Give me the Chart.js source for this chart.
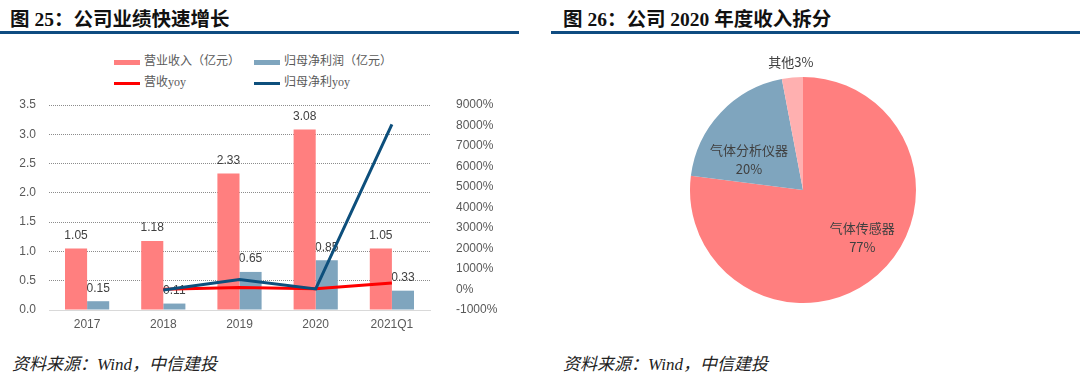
<!DOCTYPE html>
<html>
<head>
<meta charset="utf-8">
<script src="https://cdn.jsdelivr.net/npm/chart.js"></script>
<style>
    body { margin: 0; width: 1080px; height: 380px; background: #fff; position: relative; overflow: hidden; }
    .title { position: absolute; top: 3px; font: bold 19.5px "Liberation Serif", "Noto Sans CJK SC", serif; color: #111; white-space: nowrap; }
    .rule { position: absolute; top: 31px; height: 3px; background: #0f4c81; }
    .source { position: absolute; top: 350px; font: italic 17px "Liberation Serif", "Noto Sans CJK SC", serif; color: #222; white-space: nowrap; }
    .legend { position: absolute; font: 12px "Liberation Serif", "Noto Sans CJK SC", serif; color: #595959; white-space: nowrap; }
    .legend span.sw { display: inline-block; width: 26px; vertical-align: middle; margin-right: 4px; }
    canvas { position: absolute; }
</style>
</head>
<body>
<div class="title" style="left:10px">图 25：公司业绩快速增长</div>
<div class="rule" style="left:0; width:519px"></div>
<div class="title" style="left:563px">图 26：公司 2020 年度收入拆分</div>
<div class="rule" style="left:551px; width:529px"></div>

<div id="legend"></div>

<canvas id="barChart" width="520" height="240" style="left:0; top:97px"></canvas>
<canvas id="pieChart" width="326" height="280" style="left:640px; top:50px"></canvas>

<div class="source" style="left:12px">资料来源：Wind，中信建投</div>
<div class="source" style="left:563px">资料来源：Wind，中信建投</div>

<script>
// 图25 数据
const years = ['2017', '2018', '2019', '2020', '2021Q1'];
const revenue = [1.05, 1.18, 2.33, 3.08, 1.05];      // 营业收入（亿元）
const netProfit = [0.15, 0.11, 0.65, 0.85, 0.33];    // 归母净利润（亿元）
const revenueYoy = [null, 12, 97, 32, 320];          // 营收yoy (%)
const netProfitYoy = [null, -27, 490, 31, 8050];     // 归母净利yoy (%)

// 图26 数据
const segments = ['气体传感器', '气体分析仪器', '其他'];
const segmentShare = [77, 20, 3];

const colors = {
    revenue: '#ff7f7f',
    profit: '#7fa5be',
    revenueYoy: '#ff0000',
    profitYoy: '#0d4f7c',
    other: '#ffb0b0'
};

const legendItems = [
    { text: '营业收入（亿元）', color: colors.revenue, h: 5, x: 114, y: 60 },
    { text: '归母净利润（亿元）', color: colors.profit, h: 5, x: 254, y: 60 },
    { text: '营收yoy', color: colors.revenueYoy, h: 3, x: 114, y: 81 },
    { text: '归母净利yoy', color: colors.profitYoy, h: 3, x: 254, y: 81 }
];
const legendEl = document.getElementById('legend');
legendItems.forEach(function(it) {
    const d = document.createElement('div');
    d.className = 'legend';
    d.style.left = it.x + 'px';
    d.style.top = (it.y - 9) + 'px';
    d.innerHTML = '<span class="sw" style="height:' + it.h + 'px;background:' + it.color + '"></span>' + it.text;
    legendEl.appendChild(d);
});

const tickFont = { family: '"Liberation Sans", Arial, sans-serif', size: 12 };
const clear = 'rgba(0,0,0,0)';

// 柱顶数值标签
const barLabels = {
    id: 'barLabels',
    afterDatasetDraw(chart, args) {
        const ds = chart.data.datasets[args.index];
        if (ds.type !== 'bar') return;
        const c = chart.ctx;
        c.save();
        c.font = '12px "Liberation Sans", Arial, sans-serif';
        c.fillStyle = '#404040';
        c.textAlign = 'center';
        c.textBaseline = 'middle';
        args.meta.data.forEach(function(el, i) {
            c.fillText(ds.data[i].toFixed(2), el.x, el.y - 13);
        });
        c.restore();
    }
};

new Chart(document.getElementById('barChart'), {
    data: {
        labels: years,
        datasets: [
            { type: 'bar', label: '营业收入（亿元）', data: revenue, backgroundColor: colors.revenue, yAxisID: 'y', order: 2 },
            { type: 'bar', label: '归母净利润（亿元）', data: netProfit, backgroundColor: colors.profit, yAxisID: 'y', order: 2 },
            { type: 'line', label: '营收yoy', data: revenueYoy, borderColor: colors.revenueYoy, backgroundColor: colors.revenueYoy, borderWidth: 3, pointRadius: 0, yAxisID: 'y1', order: 1 },
            { type: 'line', label: '归母净利yoy', data: netProfitYoy, borderColor: colors.profitYoy, backgroundColor: colors.profitYoy, borderWidth: 3, pointRadius: 0, yAxisID: 'y1', order: 0 }
        ]
    },
    options: {
        responsive: false,
        animation: false,
        devicePixelRatio: 1,
        layout: { padding: { top: 8 } },
        datasets: { bar: { barPercentage: 1, categoryPercentage: 0.58 } },
        plugins: { legend: { display: false }, tooltip: { enabled: false } },
        scales: {
            x: {
                grid: { display: false, drawTicks: false },
                border: { color: '#d9d9d9', width: 1 },
                ticks: { color: '#595959', font: tickFont, padding: 7 },
                afterFit(s) { s.height = 27; }
            },
            y: {
                position: 'left',
                min: 0, max: 3.5,
                ticks: { stepSize: 0.5, color: '#595959', font: tickFont, padding: 0, callback: v => v.toFixed(1) },
                grid: {
                    drawTicks: true,
                    tickLength: 13,
                    tickColor: clear,
                    color: ctx => ctx.tick && ctx.tick.value === 0 ? clear : '#8c8c8c'
                },
                border: { display: false, dash: [1, 1] },
                afterFit(s) { s.width = 49; }
            },
            y1: {
                position: 'right',
                min: -1000, max: 9000,
                ticks: { stepSize: 1000, autoSkip: false, color: '#595959', font: tickFont, padding: 0, callback: v => v + '%' },
                grid: { display: false, drawTicks: true, tickLength: 26 },
                border: { display: false },
                afterFit(s) { s.width = 90; }
            }
        }
    },
    plugins: [barLabels]
});

// 饼图标签（微调偏移，仅样式）
const pieNudge = [[13, -5], [-3, 17], [0, 0]];
const pieLabels = {
    id: 'pieLabels',
    afterDatasetsDraw(chart) {
        const c = chart.ctx;
        const meta = chart.getDatasetMeta(0);
        c.save();
        c.font = '13px "Noto Sans CJK SC", sans-serif';
        c.fillStyle = '#404040';
        c.textAlign = 'center';
        c.textBaseline = 'middle';
        meta.data.forEach(function(arc, i) {
            const mid = (arc.startAngle + arc.endAngle) / 2;
            const v = segmentShare[i];
            if (v < 5) {
                const r = arc.outerRadius + 16;
                c.fillText(segments[i] + v + '%', arc.x + Math.cos(mid) * r, arc.y + Math.sin(mid) * r);
            } else {
                const r = arc.outerRadius * 0.62;
                const x = arc.x + Math.cos(mid) * r + pieNudge[i][0];
                const y = arc.y + Math.sin(mid) * r + pieNudge[i][1];
                c.fillText(segments[i], x, y - 9);
                c.fillText(v + '%', x, y + 10);
            }
        });
        c.restore();
    }
};

new Chart(document.getElementById('pieChart'), {
    type: 'pie',
    data: {
        labels: segments,
        datasets: [{
            data: segmentShare,
            backgroundColor: [colors.revenue, colors.profit, colors.other],
            borderWidth: 0
        }]
    },
    options: {
        responsive: false,
        animation: false,
        devicePixelRatio: 1,
        layout: { padding: { top: 27, bottom: 27, left: 50, right: 50 } },
        plugins: { legend: { display: false }, tooltip: { enabled: false } }
    },
    plugins: [pieLabels]
});
</script>
</body>
</html>
